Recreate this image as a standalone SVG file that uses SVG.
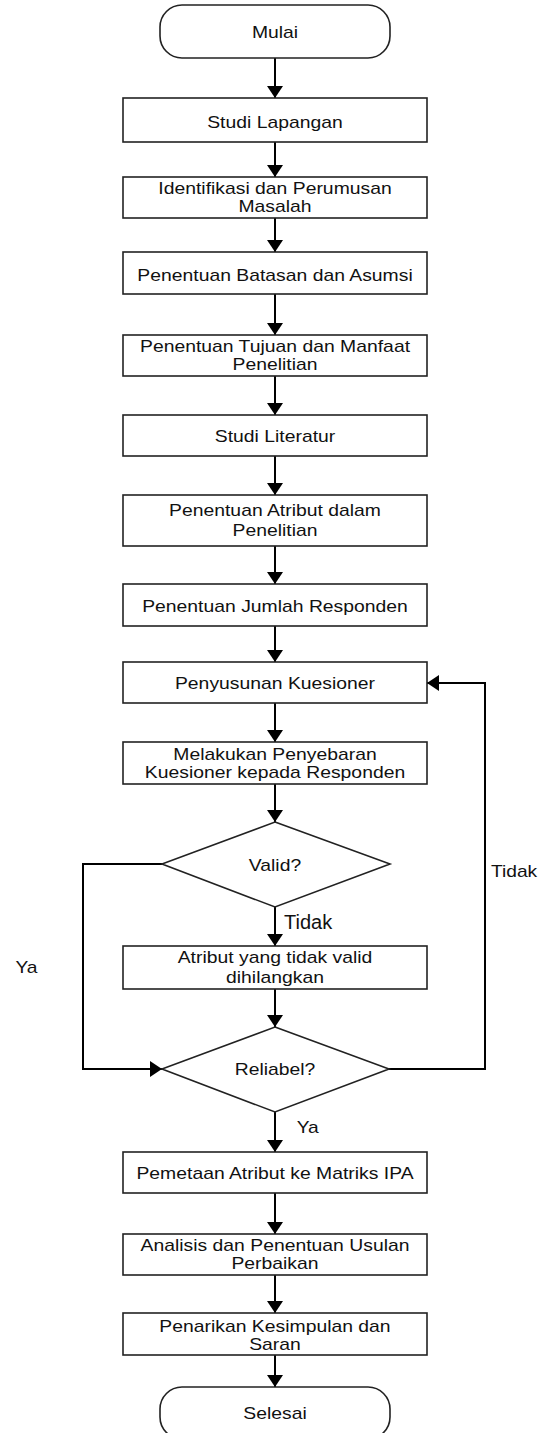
<svg xmlns="http://www.w3.org/2000/svg" width="540" height="1433" viewBox="0 0 540 1433">
<defs>
<marker id="ah" viewBox="0 0 12 16" refX="12" refY="8" markerWidth="12" markerHeight="16" markerUnits="userSpaceOnUse" orient="auto">
<path d="M0,0 L12,8 L0,16 z" fill="#000"/>
</marker>
<style>
.box{fill:#fff;stroke:#222;stroke-width:1.6}
.t{font-family:"Liberation Sans",Arial,sans-serif;font-size:16px;fill:#111;text-anchor:middle}
.ts{font-family:"Liberation Sans",Arial,sans-serif;font-size:16px;fill:#111;text-anchor:start}
.c{fill:none;stroke:#000;stroke-width:2}
.ca{fill:none;stroke:#000;stroke-width:2;marker-end:url(#ah)}
</style>
</defs>
<rect width="540" height="1433" fill="#fff"/>
<g id="connectors">
<line class="ca" x1="275" y1="58" x2="275" y2="98"/>
<line class="ca" x1="275" y1="142" x2="275" y2="177"/>
<line class="ca" x1="275" y1="218" x2="275" y2="252"/>
<line class="ca" x1="275" y1="294" x2="275" y2="335"/>
<line class="ca" x1="275" y1="376" x2="275" y2="415"/>
<line class="ca" x1="275" y1="456" x2="275" y2="495"/>
<line class="ca" x1="275" y1="546" x2="275" y2="584"/>
<line class="ca" x1="275" y1="626" x2="275" y2="662"/>
<line class="ca" x1="275" y1="703" x2="275" y2="742"/>
<line class="ca" x1="275" y1="784" x2="275" y2="822"/>
<line class="ca" x1="275" y1="907" x2="275" y2="946"/>
<line class="ca" x1="275" y1="989" x2="275" y2="1027"/>
<line class="ca" x1="275" y1="1112" x2="275" y2="1152"/>
<line class="ca" x1="275" y1="1193" x2="275" y2="1234"/>
<line class="ca" x1="275" y1="1275" x2="275" y2="1313"/>
<line class="ca" x1="275" y1="1355" x2="275" y2="1387"/>
<polyline class="ca" points="162,864 83,864 83,1069 162,1069"/>
<polyline class="ca" points="389,1069 485,1069 485,683 427,683"/>
<text class="ts" x="284" y="929.3" style="font-size:20px">Tidak</text>
<text class="ts" transform="translate(296.7 1133.3) scale(1.2 1)">Ya</text>
<text class="ts" transform="translate(15.5 973.3) scale(1.2 1)">Ya</text>
<text class="ts" transform="translate(491 877.3) scale(1.2 1)">Tidak</text>
</g>
<g id="mulai">
<rect class="box" x="160" y="5" width="230" height="53" rx="22"/>
<text class="t" transform="translate(275 38.3) scale(1.21 1)">Mulai</text>
</g>
<g id="studi-lapangan">
<rect class="box" x="123" y="98" width="304" height="44"/>
<text class="t" transform="translate(275 128) scale(1.21 1)">Studi Lapangan</text>
</g>
<g id="identifikasi">
<rect class="box" x="123" y="177" width="304" height="41"/>
<text class="t" transform="translate(275 194.3) scale(1.21 1)">Identifikasi dan Perumusan</text>
<text class="t" transform="translate(275 211.7) scale(1.21 1)">Masalah</text>
</g>
<g id="batasan">
<rect class="box" x="123" y="252" width="304" height="42"/>
<text class="t" transform="translate(275 281) scale(1.21 1)">Penentuan Batasan dan Asumsi</text>
</g>
<g id="tujuan">
<rect class="box" x="123" y="335" width="304" height="41"/>
<text class="t" transform="translate(275 351.7) scale(1.21 1)">Penentuan Tujuan dan Manfaat</text>
<text class="t" transform="translate(275 370) scale(1.21 1)">Penelitian</text>
</g>
<g id="studi-literatur">
<rect class="box" x="123" y="415" width="304" height="41"/>
<text class="t" transform="translate(275 442) scale(1.21 1)">Studi Literatur</text>
</g>
<g id="atribut">
<rect class="box" x="123" y="495" width="304" height="51"/>
<text class="t" transform="translate(275 516) scale(1.21 1)">Penentuan Atribut dalam</text>
<text class="t" transform="translate(275 536) scale(1.21 1)">Penelitian</text>
</g>
<g id="jumlah">
<rect class="box" x="123" y="584" width="304" height="42"/>
<text class="t" transform="translate(275 611.7) scale(1.21 1)">Penentuan Jumlah Responden</text>
</g>
<g id="penyusunan">
<rect class="box" x="123" y="662" width="304" height="41"/>
<text class="t" transform="translate(275 689.3) scale(1.21 1)">Penyusunan Kuesioner</text>
</g>
<g id="penyebaran">
<rect class="box" x="123" y="742" width="304" height="42"/>
<text class="t" transform="translate(275 760) scale(1.21 1)">Melakukan Penyebaran</text>
<text class="t" transform="translate(275 777.7) scale(1.21 1)">Kuesioner kepada Responden</text>
</g>
<g id="valid">
<polygon class="box" points="275,822 390,864 275,907 162,864"/>
<text class="t" transform="translate(275 870.7) scale(1.21 1)">Valid?</text>
</g>
<g id="hilangkan">
<rect class="box" x="123" y="946" width="304" height="43"/>
<text class="t" transform="translate(275 963.3) scale(1.21 1)">Atribut yang tidak valid</text>
<text class="t" transform="translate(275 982.7) scale(1.21 1)">dihilangkan</text>
</g>
<g id="reliabel">
<polygon class="box" points="275,1027 389,1069 275,1112 162,1069"/>
<text class="t" transform="translate(275 1075) scale(1.21 1)">Reliabel?</text>
</g>
<g id="pemetaan">
<rect class="box" x="123" y="1152" width="304" height="41"/>
<text class="t" transform="translate(275 1179) scale(1.21 1)">Pemetaan Atribut ke Matriks IPA</text>
</g>
<g id="analisis">
<rect class="box" x="123" y="1234" width="304" height="41"/>
<text class="t" transform="translate(275 1251) scale(1.21 1)">Analisis dan Penentuan Usulan</text>
<text class="t" transform="translate(275 1269.3) scale(1.21 1)">Perbaikan</text>
</g>
<g id="penarikan">
<rect class="box" x="123" y="1313" width="304" height="42"/>
<text class="t" transform="translate(275 1331.7) scale(1.21 1)">Penarikan Kesimpulan dan</text>
<text class="t" transform="translate(275 1350) scale(1.21 1)">Saran</text>
</g>
<g id="selesai">
<rect class="box" x="160" y="1387" width="230" height="52" rx="22"/>
<text class="t" transform="translate(275 1419.3) scale(1.21 1)">Selesai</text>
</g>
</svg>
